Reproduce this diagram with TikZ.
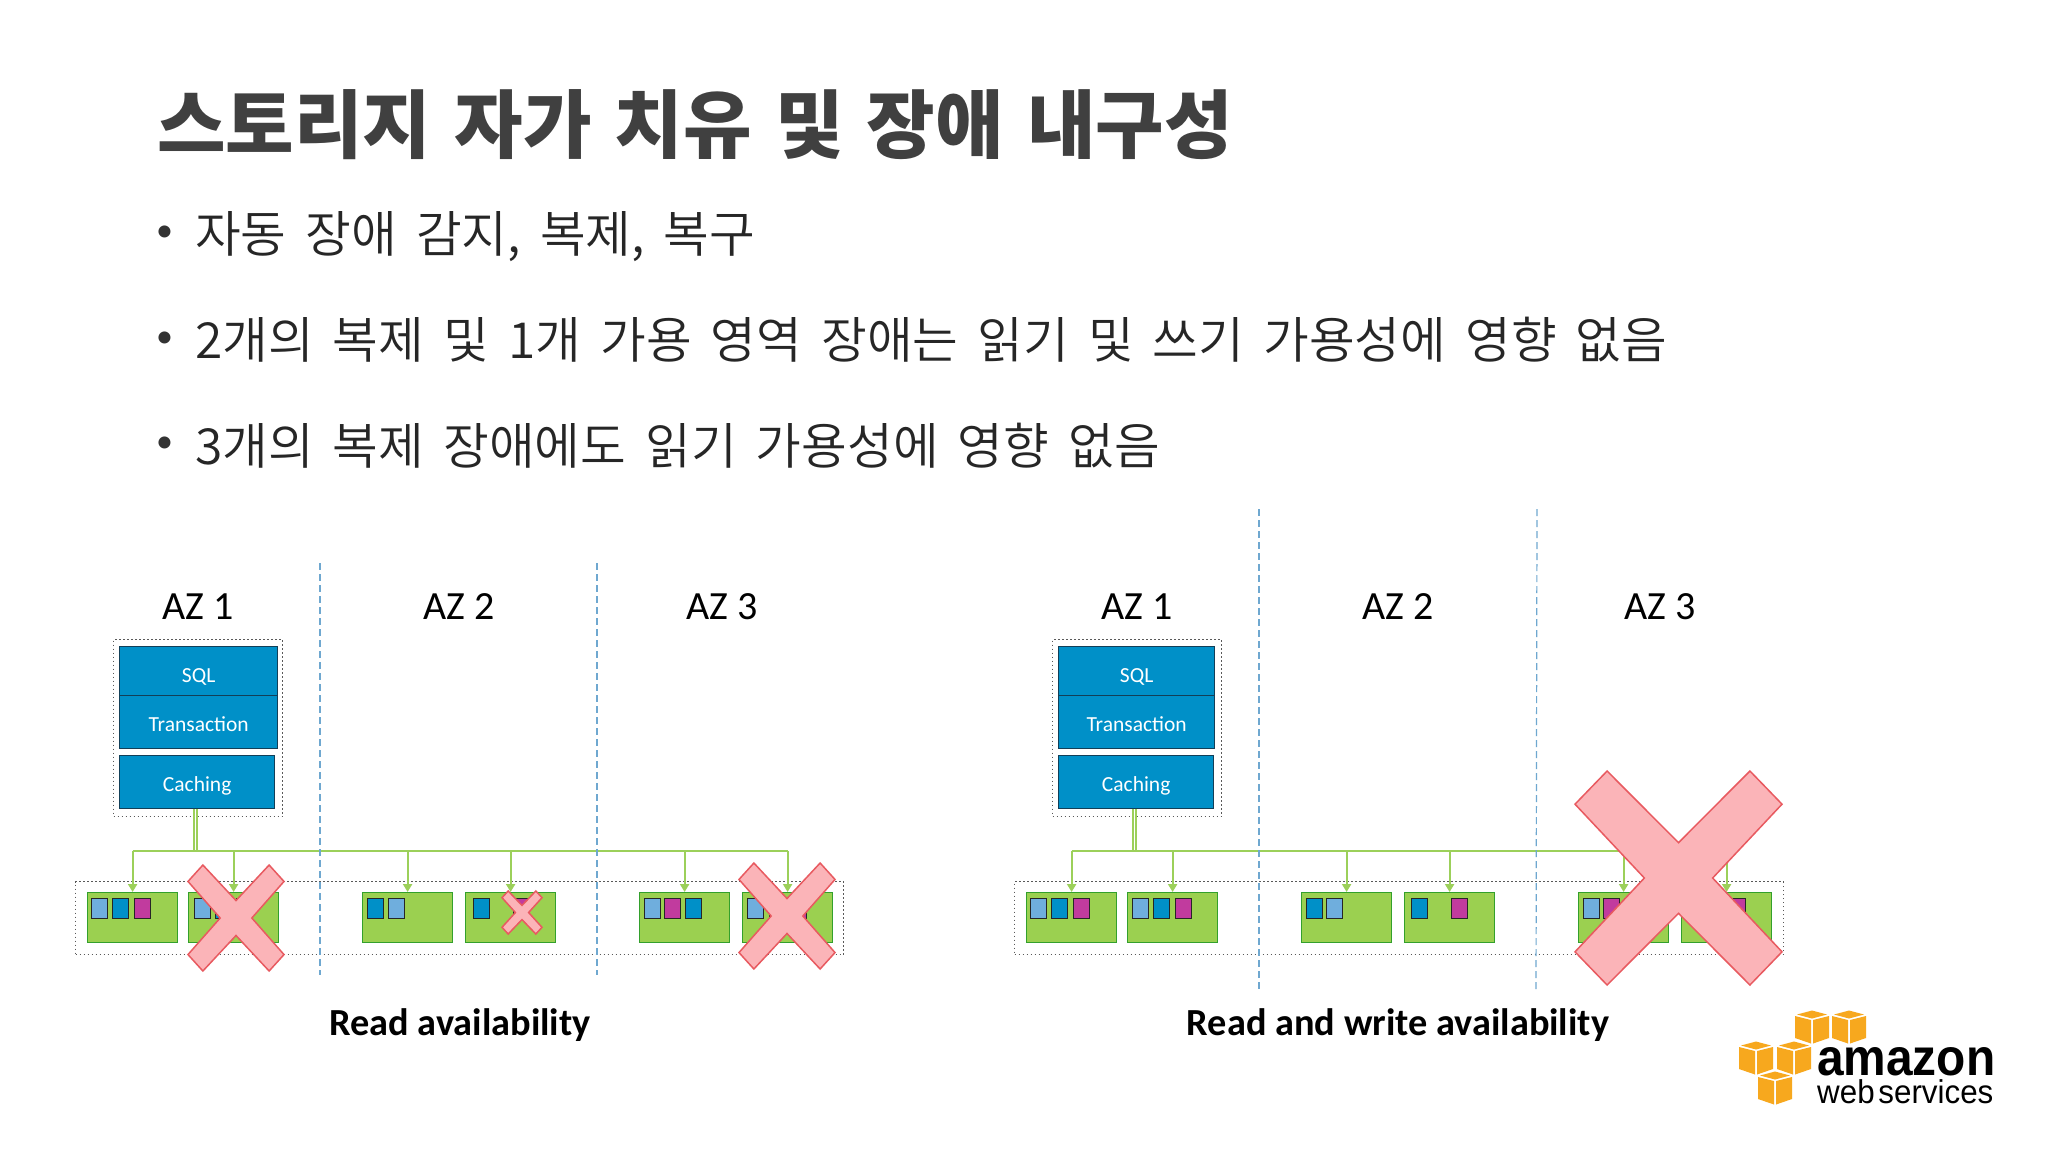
\documentclass[tikz,border=0pt]{standalone}
\usepackage{fontspec}
\setmainfont{Carlito}
\newfontfamily\krtitle[WordSpace=1.36]{Noto Sans CJK KR}
\newfontfamily\krbody[WordSpace=1.72]{Noto Sans CJK KR DemiLight}
\newfontfamily\logofont{Liberation Sans}
\usetikzlibrary{arrows.meta}
\definecolor{layerblue}{HTML}{0090C8}
\definecolor{layerline}{HTML}{123F58}
\definecolor{lightseg}{HTML}{6FAEDD}
\definecolor{magseg}{HTML}{C13B9E}
\definecolor{storegreen}{HTML}{9BD050}
\definecolor{storeline}{HTML}{33A02C}
\definecolor{linkgreen}{HTML}{9CD05A}
\definecolor{failpink}{HTML}{FBB4B8}
\definecolor{failline}{HTML}{E85A60}
\definecolor{azblue}{HTML}{6FA8D0}
\definecolor{awsorange}{HTML}{F7A81E}
\tikzset{
  layer/.style={draw=layerline, line width=1.3pt, fill=layerblue, text=white, inner sep=0pt, anchor=north west, text height=18pt, text depth=0pt, font=\fontsize{21.5}{25}\selectfont},
  groupbox/.style={draw=black!65, line width=1.3pt, dash pattern=on 1.5pt off 2.5pt, inner sep=0pt, anchor=north west},
  store/.style={draw=storeline, line width=1.2pt, fill=storegreen, inner sep=0pt, minimum width=90pt, minimum height=50pt, anchor=north west},
  seg/.style={draw=black!85, line width=1.2pt, inner sep=0pt, minimum width=16pt, minimum height=20pt, anchor=north west},
  lseg/.style={seg, fill=lightseg},
  bseg/.style={seg, fill=layerblue},
  mseg/.style={seg, fill=magseg},
  azrule/.style={azblue, line width=1.2pt, dash pattern=on 7pt off 4pt},
  link/.style={linkgreen, line width=2pt},
  arrowlink/.style={link, -{Triangle[length=8pt,width=9pt]}},
  azlabel/.style={inner sep=0pt, font=\fontsize{40}{48}\selectfont},
  caption/.style={inner sep=0pt, font=\fontsize{38.3}{46}\selectfont\bfseries},
  bulletdot/.style={inner sep=0pt, text=black!80, font=\fontsize{34}{40}\selectfont},
  bullettext/.style={inner sep=0pt, anchor=base west, text=black!85, font=\krbody\fontsize{49.7}{58}\selectfont},
  failx/.pic={\draw[fill=failpink, draw=failline, line width=1.5pt]
    (-.69,-1)--(0,-.33)--(.69,-1)--(1,-.69)--(.33,0)--(1,.69)--(.69,1)--(0,.33)--(-.69,1)--(-1,.69)--(-.33,0)--(-1,-.69)--cycle;},
  awscube/.pic={\fill[awsorange] (0,-16.5)--(15,-12.5)--(0,-8.5)--(-15,-12.5)--cycle;
    \fill[awsorange] (-17,-11)--(-1,-7)--(-1,16.5)--(-17,11)--cycle;
    \fill[awsorange] (17,-11)--(1,-7)--(1,16.5)--(17,11)--cycle;}
}
\begin{document}
\begin{tikzpicture}[x=1pt, y=-1pt, >=stealth]
\useasboundingbox[fill=white] (0,0) rectangle (2048,1152);
% heading
\node[inner sep=0pt, anchor=base west, text=black!75] (title) at (157,152) {\krtitle\fontsize{74.5}{86}\selectfont\bfseries 스토리지 자가 치유 및 장애 내구성};
\node[bulletdot] (dot1) at (164.5,234) {•};
\node[bullettext] (line1) at (195,252.5) {자동 장애 감지, 복제, 복구};
\node[bulletdot] (dot2) at (164.5,339.5) {•};
\node[bullettext] (line2) at (195,358.5) {2개의 복제 및 1개 가용 영역 장애는 읽기 및 쓰기 가용성에 영향 없음};
\node[bulletdot] (dot3) at (164.5,445) {•};
\node[bullettext] (line3) at (195,464.5) {3개의 복제 장애에도 읽기 가용성에 영향 없음};
% left diagram
\coordinate (ltop1) at (320,563); \coordinate (lend1) at (320,975);
\coordinate (ltop2) at (597,563); \coordinate (lend2) at (597,975);
\node[azlabel] (laz1) at (198,607) {AZ 1};
\node[azlabel] (laz2) at (459,607) {AZ 2};
\node[azlabel] (laz3) at (722,607) {AZ 3};
\node[groupbox, minimum width=169pt, minimum height=177pt] (lhead) at (113,639) {};
\node[layer, minimum width=158pt, minimum height=49pt, text height=22pt] (lsql) at (119,646) {SQL};
\node[layer, minimum width=158pt, minimum height=53pt] (ltrans) at (119,695) {Transaction};
\node[layer, minimum width=155pt, minimum height=53pt] (lcache) at (119,755) {Caching};
\node[groupbox, minimum width=768pt, minimum height=73pt] (lstores) at (75,881) {};
\node[store] (ls1) at (87,892) {};
\node[store] (ls2) at (188,892) {};
\node[store] (ls3) at (362,892) {};
\node[store] (ls4) at (465,892) {};
\node[store] (ls5) at (639,892) {};
\node[store] (ls6) at (742,892) {};
\node[lseg] (la1) at (91,898) {}; \node[bseg] (la2) at (112,898) {}; \node[mseg] (la3) at (134,898) {};
\node[lseg] (lb1) at (194,898) {}; \node[bseg] (lb2) at (215,898) {}; \node[mseg] (lb3) at (236,898) {};
\node[bseg] (lc1) at (367,898) {}; \node[lseg] (lc2) at (388,898) {};
\node[bseg] (ld1) at (473,898) {}; \node[mseg] (ld2) at (513,898) {};
\node[lseg] (le1) at (644,898) {}; \node[mseg] (le2) at (664,898) {}; \node[bseg] (le3) at (685,898) {};
\node[lseg] (lf1) at (747,898) {}; \node[bseg] (lf2) at (769,898) {}; \node[mseg] (lf3) at (790,898) {};
\coordinate (lbus) at (132,851);
\draw[link] ([xshift=-3pt]lcache.south) -- ([xshift=-3pt]lcache.south |- lbus);
\draw[link] ([xshift=0pt]lcache.south) -- ([xshift=0pt]lcache.south |- lbus);
\draw[link] (ls1.north |- lbus) -- (ls6.north |- lbus);
\draw[arrowlink] (ls1.north |- lbus) -- (ls1.north);
\draw[arrowlink] (ls2.north |- lbus) -- (ls2.north);
\draw[arrowlink] (ls3.north |- lbus) -- (ls3.north);
\draw[arrowlink] (ls4.north |- lbus) -- (ls4.north);
\draw[arrowlink] (ls5.north |- lbus) -- (ls5.north);
\draw[arrowlink] (ls6.north |- lbus) -- (ls6.north);
\draw[azrule] (ltop1) -- (lend1);
\draw[azrule] (ltop2) -- (lend2);
\pic[xscale=48, yscale=53] at (236,918) {failx};
\pic[xscale=20, yscale=21.5] at (522,912.5) {failx};
\pic[xscale=48, yscale=53] at (787,916) {failx};
\node[caption] (lcaption) at (460,1025) {Read availability};
% right diagram
\coordinate (rtop1) at (1259,509); \coordinate (rend1) at (1259,992);
\coordinate (rtop2) at (1537,509); \coordinate (rend2) at (1536,992);
\node[azlabel] (raz1) at (1137,607) {AZ 1};
\node[azlabel] (raz2) at (1398,607) {AZ 2};
\node[azlabel] (raz3) at (1660,607) {AZ 3};
\node[groupbox, minimum width=169pt, minimum height=177pt] (rhead) at (1052,639) {};
\node[layer, minimum width=156pt, minimum height=49pt, text height=22pt] (rsql) at (1058,646) {SQL};
\node[layer, minimum width=156pt, minimum height=53pt] (rtrans) at (1058,695) {Transaction};
\node[layer, minimum width=155pt, minimum height=53pt] (rcache) at (1058,755) {Caching};
\node[groupbox, minimum width=768.5pt, minimum height=73pt] (rstores) at (1014,881) {};
\node[store] (rs1) at (1026,892) {};
\node[store] (rs2) at (1127,892) {};
\node[store] (rs3) at (1301,892) {};
\node[store] (rs4) at (1404,892) {};
\node[store] (rs5) at (1578,892) {};
\node[store] (rs6) at (1681,892) {};
\node[lseg] (ra1) at (1030,898) {}; \node[bseg] (ra2) at (1051,898) {}; \node[mseg] (ra3) at (1073,898) {};
\node[lseg] (rb1) at (1132,898) {}; \node[bseg] (rb2) at (1153,898) {}; \node[mseg] (rb3) at (1175,898) {};
\node[bseg] (rc1) at (1306,898) {}; \node[lseg] (rc2) at (1326,898) {};
\node[bseg] (rd1) at (1411,898) {}; \node[mseg] (rd2) at (1451,898) {};
\node[lseg] (re1) at (1583,898) {}; \node[mseg] (re2) at (1603,898) {}; \node[bseg] (re3) at (1624,898) {};
\node[lseg] (rf1) at (1687,898) {}; \node[bseg] (rf2) at (1708,898) {}; \node[mseg] (rf3) at (1729,898) {};
\coordinate (rbus) at (1071,851);
\draw[link] ([xshift=-3pt]rcache.south) -- ([xshift=-3pt]rcache.south |- rbus);
\draw[link] ([xshift=0pt]rcache.south) -- ([xshift=0pt]rcache.south |- rbus);
\draw[link] (rs1.north |- rbus) -- (rs6.north |- rbus);
\draw[arrowlink] (rs1.north |- rbus) -- (rs1.north);
\draw[arrowlink] (rs2.north |- rbus) -- (rs2.north);
\draw[arrowlink] (rs3.north |- rbus) -- (rs3.north);
\draw[arrowlink] (rs4.north |- rbus) -- (rs4.north);
\draw[arrowlink] (rs5.north |- rbus) -- (rs5.north);
\draw[arrowlink] (rs6.north |- rbus) -- (rs6.north);
\draw[azrule] (rtop1) -- (rend1);
\draw[azrule] (rtop2) -- (rend2);
\pic[xscale=103.5, yscale=107] at (1678.5,878) {failx};
\node[caption] (rcaption) at (1398,1025) {Read and write availability};
% logo
\pic at (1812,1027) {awscube};
\pic at (1849,1027) {awscube};
\pic at (1756,1058) {awscube};
\pic at (1794,1058) {awscube};
\pic at (1775,1088) {awscube};
\node[inner sep=0pt, anchor=base west, xscale=.92, font=\logofont\bfseries\fontsize{52}{60}\selectfont] (awsname) at (1817,1075) {amazon};
\node[inner sep=0pt, anchor=base west, xscale=.95, font=\logofont\fontsize{33}{40}\selectfont] (awsweb) at (1817,1103) {web\hspace{.12em}services};
\end{tikzpicture}
\end{document}
